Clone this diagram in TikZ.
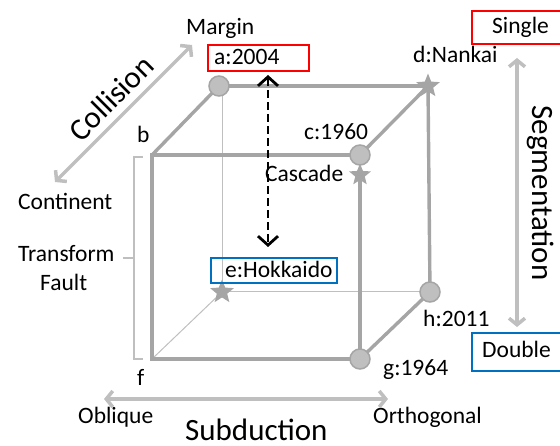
\documentclass[tikz,border=0pt]{standalone}
\usepackage{fontspec}
\setmainfont{Carlito}
\usetikzlibrary{arrows.meta,shapes.geometric}
\definecolor{edgegray}{HTML}{A5A5A5}
\definecolor{lightgray2}{HTML}{BFBFBF}
\definecolor{boxred}{HTML}{FF0000}
\definecolor{boxblue}{HTML}{0070C0}
\tikzset{
  lbl/.style={inner sep=0pt, anchor=base west, font=\fontsize{23.5}{27}\selectfont},
  biglbl/.style={inner sep=0pt, font=\fontsize{31}{35}\selectfont},
  thickedge/.style={draw=edgegray, line width=3.4pt},
  thinedge/.style={draw=lightgray2, line width=1pt},
  vcirc/.style={circle, fill=lightgray2, draw=edgegray, line width=1.5pt, minimum size=20pt, inner sep=0pt},
  vstar/.style={star, star points=5, star point ratio=2.3, fill=edgegray, draw=none, minimum size=25pt, inner sep=0pt},
  axisarrow/.style={draw=lightgray2, line width=3.5pt, {Straight Barb[length=6.5pt,width=16pt]}-{Straight Barb[length=6.5pt,width=16pt]}},
  dasharrow/.style={draw=black, line width=2.8pt, dash pattern=on 8pt off 4pt, {Straight Barb[length=9pt,width=20pt]}-{Straight Barb[length=9pt,width=20pt]}},
  redbox/.style={draw=boxred, line width=2pt, inner sep=0pt, anchor=north west},
  bluebox/.style={draw=boxblue, line width=2pt, inner sep=0pt, anchor=north west},
  bracket/.style={draw=lightgray2, line width=1.6pt}
}
\begin{document}
\begin{tikzpicture}[x=1pt,y=-1pt]
\useasboundingbox (0,0) rectangle (560,446);

% vertices
\coordinate (a) at (219,86);
\coordinate (b) at (152,155);
\coordinate (c) at (360,155);
\coordinate (d) at (428,86);
\coordinate (e) at (222,292);
\coordinate (f) at (152,359);
\coordinate (g) at (360,359);
\coordinate (h) at (430,292);
\coordinate (cas) at (360,175);
\coordinate (ad) at (222,86);

% hidden (thin) edges
\draw[thinedge] (ad) -- (e);
\draw[thinedge] (e) -- (h);
\draw[thinedge] (f) -- (e);

% visible (thick) edges
\draw[thickedge] (a) -- (d);
\draw[thickedge] (d) -- (h);
\draw[thickedge] (b) -- (a);
\draw[thickedge] (c) -- (d);
\draw[thickedge] (g) -- (h);
\draw[thickedge] (b) -- (c);
\draw[thickedge, line cap=rect] (b) -- (f);
\draw[thickedge] (f) -- (g);
\draw[thickedge] (cas) -- (g);

% vertex markers
\node[vcirc] (na) at (a) {};
\node[vcirc] (nc) at (c) {};
\node[vcirc] (ng) at (g) {};
\node[vcirc] (nh) at (h) {};
\node[vstar] (nd) at (d) {};
\node[vstar] (ne) at (e) {};
\node[vstar, minimum size=23pt] (ncas) at (cas) {};

% boxes
\node[redbox, minimum width=101pt, minimum height=26pt] (abox) at (207,44) {};
\node[redbox, minimum width=100pt, minimum height=33pt] (sbox) at (471,10) {};
\node[bluebox, minimum width=126pt, minimum height=25pt] (ebox) at (210,257) {};
\node[bluebox, minimum width=100pt, minimum height=38pt] (dbox) at (471,332) {};

% labels
\node[lbl] (tmargin) at (186,35) {Margin};
\node[lbl] (ta) at (214,65) {a:2004};
\node[lbl] (tsingle) at (492,34) {Single};
\node[lbl] (td) at (413,63) {d:Nankai};
\node[lbl] (tc) at (304,140) {c:1960};
\node[lbl] (tcas) at (265,182) {Cascade};
\node[lbl] (tb) at (137,143) {b};
\node[lbl] (tcont) at (18,210) {Continent};
\node[lbl] (ttrans) at (18,262) {Transform};
\node[lbl] (tfault) at (40,291) {Fault};
\node[lbl] (te) at (225,278) {e:Hokkaido};
\node[lbl] (tf) at (137,386) {f};
\node[lbl] (th) at (423,327) {h:2011};
\node[lbl] (tg) at (383,376) {g:1964};
\node[lbl] (tdouble) at (482,358) {Double};
\node[lbl] (tobl) at (78,424) {Oblique};
\node[lbl] (torth) at (373,424) {Orthogonal};
\node[biglbl, anchor=base west] (tsub) at (185,441) {Subduction};
\node[biglbl, rotate=-90] (tseg) at (541,193) {Segmentation};
\node[biglbl, rotate=45] (tcol) at (111,98) {Collision};

% transform fault bracket
\coordinate (br1) at (143,157);
\coordinate (br2) at (134,157);
\coordinate (br3) at (134,359);
\coordinate (br4) at (143,359);
\coordinate (brm) at (134,258);
\coordinate (brt) at (123,258);
\draw[bracket] (br1) -- (br2) -- (br3) -- (br4);
\draw[bracket] (brm) -- (brt);

% axis arrows
\coordinate (col1) at (55,182);
\coordinate (col2) at (192,45);
\coordinate (sub1) at (104,399);
\coordinate (sub2) at (388,399);
\coordinate (seg1) at (517,58);
\coordinate (seg2) at (517,327);
\draw[axisarrow] (col1) -- (col2);
\draw[axisarrow] (sub1) -- (sub2);
\draw[axisarrow] (seg1) -- (seg2);

% dashed arrow
\coordinate (da1) at (268,75);
\coordinate (da2) at (268,247);
\draw[dasharrow] (da1) -- (da2);
\end{tikzpicture}
\end{document}
